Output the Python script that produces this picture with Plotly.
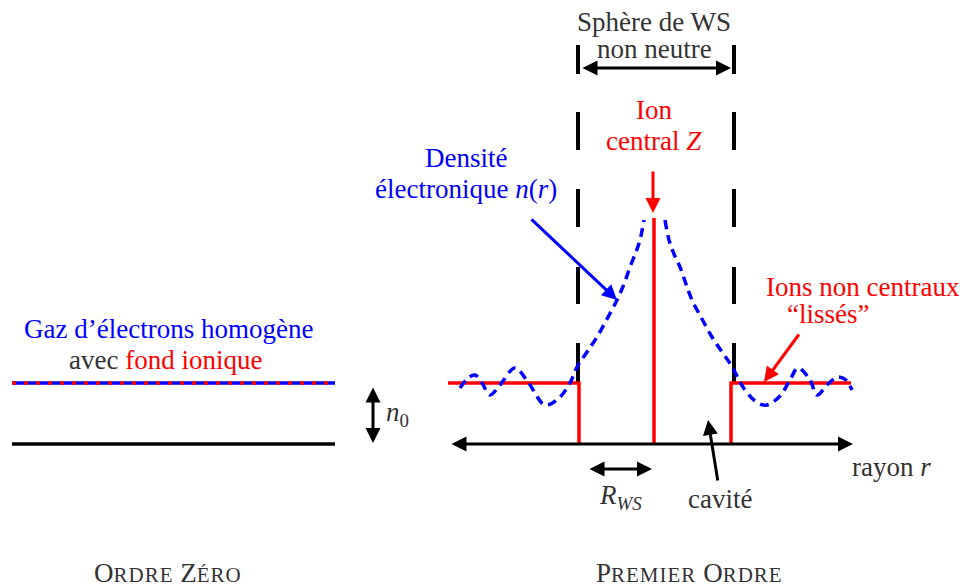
import plotly.graph_objects as go

# ---- data (diagram coordinates, in a 969 x 588 drawing space) ----
# Blue dashed electron-density curve n(r)
dens_left_x = [460, 468, 475, 482, 490, 500, 515, 528, 545, 558, 570, 577, 587, 597, 607, 617, 624, 630, 636, 640, 644]
dens_left_y = [388, 378, 375, 383, 395, 385, 368, 382, 405, 399, 383, 367, 352, 337, 319, 300, 284, 267, 252, 240, 220]
dens_right_x = [665, 669, 674, 680, 686, 692, 702, 712, 722, 731, 745, 758, 767, 780, 790, 798, 810, 817, 828, 838, 846, 852]
dens_right_y = [220, 240, 254, 267, 284, 300, 319, 337, 352, 365, 390, 403, 405, 396, 380, 368, 380, 395, 384, 377, 380, 390]

# Red "smoothed ions" step and central ion
ions_left_x = [448, 579, 579]
ions_left_y = [383, 383, 444]
ions_right_x = [731, 731, 851]
ions_right_y = [444, 383, 383]
ion_central_x = [654, 654]
ion_central_y = [218, 444]

# Zero order: homogeneous gas level and zero level
gas_x = [12, 335]
gas_y = [383, 383]
zero_x = [12, 335]
zero_y = [444, 444]

# Wigner-Seitz sphere boundaries (dashed verticals)
ws_x = [578, 734]
ws_dash_starts = [45, 112, 189, 267, 343]
ws_dash_ends = [74, 150, 227, 304, 384]

BLUE = "#0000ff"
RED = "#ff0000"
BLACK = "#000000"
TXT = "#333333"
FONT = "Liberation Serif"
FS = 27
BIG = 27
SC = 21

# the page body has an 8px margin: the figure sits at (8, 8)
OFF = 8
W, H = 969, 588

fig = go.Figure()

# WS dashed verticals
for xv in ws_x:
    xs, ys = [], []
    for s, e in zip(ws_dash_starts, ws_dash_ends):
        xs += [xv, xv, None]
        ys += [s, e, None]
    fig.add_trace(go.Scatter(x=xs, y=ys, mode="lines",
                             line=dict(color=BLACK, width=4), hoverinfo="skip"))

# zero-order lines
fig.add_trace(go.Scatter(x=zero_x, y=zero_y, mode="lines",
                         line=dict(color=BLACK, width=3.5), hoverinfo="skip"))
fig.add_trace(go.Scatter(x=gas_x, y=gas_y, mode="lines",
                         line=dict(color=BLUE, width=3.5), hoverinfo="skip"))
fig.add_trace(go.Scatter(x=gas_x, y=gas_y, mode="lines",
                         line=dict(color=RED, width=3.5, dash="4px,8px"), hoverinfo="skip"))

# red ions
for xs, ys in [(ions_left_x, ions_left_y), (ions_right_x, ions_right_y), (ion_central_x, ion_central_y)]:
    fig.add_trace(go.Scatter(x=xs, y=ys, mode="lines",
                             line=dict(color=RED, width=3.5), hoverinfo="skip"))

# blue density
for xs, ys in [(dens_left_x, dens_left_y), (dens_right_x, dens_right_y)]:
    fig.add_trace(go.Scatter(x=xs, y=ys, mode="lines",
                             line=dict(color=BLUE, width=3.5, dash="9px,6px", shape="spline", smoothing=1.0),
                             hoverinfo="skip"))

def arrow(x0, y0, x1, y1, color=BLACK, width=3, both=False):
    fig.add_annotation(x=x1, y=y1, ax=x0, ay=y0, xref="x", yref="y", axref="x", ayref="y",
                       text="", showarrow=True, arrowhead=2, arrowsize=1.0, arrowwidth=width,
                       arrowcolor=color, arrowside="end+start" if both else "end",
                       startarrowhead=2, startarrowsize=1.0)

# arrows
arrow(450, 444, 853, 444, both=True)          # r axis
arrow(373, 386, 373, 443, both=True)          # n0
arrow(581, 68, 731, 68, both=True)            # WS sphere width
arrow(588, 469, 652, 469, both=True)          # R_WS
arrow(653, 170, 653, 213, color=RED)          # central ion
arrow(530, 218, 617, 300, color=BLUE)         # density
arrow(800, 333, 764, 382, color=RED)          # smoothed ions
arrow(718, 482, 708, 420)                     # cavity

def label(x, y, text, color=TXT, size=FS, anchor="center"):
    fig.add_annotation(x=x, y=y, xref="x", yref="y", text=text, showarrow=False,
                       font=dict(family=FONT, size=size, color=color),
                       xanchor=anchor, yanchor="middle")

def smallcaps(word):
    return f"{word[0]}<span style='font-size:{SC}px;letter-spacing:1px'>{word[1:]}</span>"

label(654, 22, "Sphère de WS")
label(654, 49, "non neutre")
label(654, 110, "Ion", RED)
label(654, 141, "central <i>Z</i>", RED)
label(466, 158, "Densité", BLUE)
label(466, 189, "électronique <i>n</i>(<i>r</i>)", BLUE)
label(863, 287, "Ions non centraux", RED)
label(828, 314, "“lissés”", RED)
label(168, 329, "Gaz d’électrons homogène", BLUE)
label(165, 360, "avec <span style='color:#ff0000'>fond ionique</span>")
label(384, 414, "<i>n</i><sub>0</sub>", anchor="left")
label(891, 467, "rayon <i>r</i>")
label(620, 497, "<i>R</i><sub><i>WS</i></sub>")
label(720, 499, "cavité")
label(168, 573, smallcaps("ORDRE") + " " + smallcaps("ZÉRO"), size=BIG)
label(689, 573, smallcaps("PREMIER") + " " + smallcaps("ORDRE"), size=BIG)

fig.update_layout(
    width=W - OFF, height=H - OFF,
    margin=dict(l=0, r=0, t=0, b=0, pad=0),
    paper_bgcolor="white", plot_bgcolor="white",
    showlegend=False,
    xaxis=dict(range=[OFF, W], visible=False, fixedrange=True),
    yaxis=dict(range=[H, OFF], visible=False, fixedrange=True),
)

fig.write_html("out.html")
